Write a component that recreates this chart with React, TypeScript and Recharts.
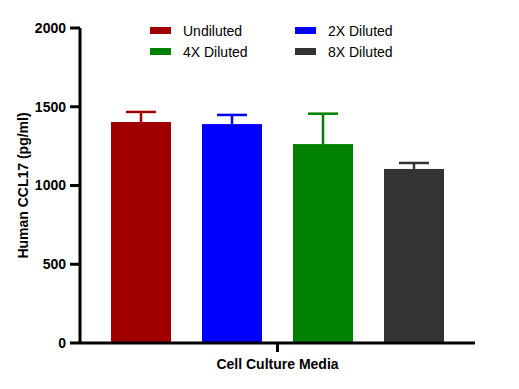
import React from 'react';
import { BarChart, Bar, XAxis, YAxis, Legend } from 'recharts';

const categories = ['Cell Culture Media'];
const seriesNames = ['Undiluted', '2X Diluted', '4X Diluted', '8X Diluted'];
const seriesKeys = ['undiluted', 'd2x', 'd4x', 'd8x'];
const means = [1403, 1390, 1263, 1105];
const sds = [64, 58, 193, 38];
const colors = ['#A00000', '#0000FF', '#008000', '#333333'];
const yTicks = [0, 500, 1000, 1500, 2000];

const data = categories.map((c) => {
  const row: Record<string, any> = { name: c };
  seriesKeys.forEach((k, i) => {
    row[k] = means[i];
    row[k + 'Sd'] = sds[i];
  });
  return row;
});

const FONT = "Arial, 'Liberation Sans', sans-serif";

const LegendContent = () => (
  <div
    style={{
      display: 'grid',
      gridTemplateColumns: '145px 145px',
      gridAutoRows: '21px',
      fontFamily: FONT,
      fontSize: 14,
      color: '#000',
    }}
  >
    {seriesNames.map((n, i) => (
      <div key={n} style={{ display: 'flex', alignItems: 'center', height: 21 }}>
        <span style={{ display: 'inline-block', width: 21, height: 7, background: colors[i], marginRight: 12 }} />
        <span>{n}</span>
      </div>
    ))}
  </div>
);

const YLabel = (props: any) => {
  const vb = props.viewBox || {};
  const cx = vb.x + 23;
  const cy = vb.y + vb.height / 2;
  return (
    <text
      x={cx}
      y={cy}
      transform={`rotate(-90, ${cx}, ${cy})`}
      textAnchor="middle"
      dominantBaseline="central"
      fontFamily={FONT}
      fontSize={14}
      fontWeight="bold"
      fill="#000"
    >
      Human CCL17 (pg/ml)
    </text>
  );
};

// Bar with a one-sided (upper) SD error bar, scaled from the bar's own pixel/value ratio
const makeShape = (sdKey: string, color: string) => (props: any) => {
  const { x, y, width, height, payload, value } = props;
  const v = Array.isArray(value) ? value[1] - value[0] : value;
  const sd = payload ? payload[sdKey] : 0;
  const pxPerUnit = v ? height / v : 0;
  const cx = x + width / 2;
  const top = y - sd * pxPerUnit;
  return (
    <g>
      <rect x={x} y={y} width={width} height={height} fill={color} />
      <line x1={cx} y1={y} x2={cx} y2={top} stroke={color} strokeWidth={2.5} />
      <line x1={cx - 15} y1={top} x2={cx + 15} y2={top} stroke={color} strokeWidth={2.5} />
    </g>
  );
};

export default function App() {
  return (
    <div style={{ position: 'absolute', left: 0, top: 0, background: '#fff' }}>
      <BarChart
        width={519}
        height={389}
        data={data}
        margin={{ top: 28, right: 44, bottom: 0, left: 0 }}
        barSize={60}
        barGap={31}
      >
        <XAxis
          dataKey="name"
          height={46}
          axisLine={{ stroke: '#000', strokeWidth: 3 }}
          tickLine={{ stroke: '#000', strokeWidth: 3 }}
          tickSize={9}
          tickMargin={7}
          tick={{ fill: '#000', fontFamily: FONT, fontSize: 14, fontWeight: 'bold' }}
        />
        <YAxis
          width={80}
          domain={[0, 2000]}
          ticks={yTicks}
          interval={0}
          axisLine={{ stroke: '#000', strokeWidth: 3 }}
          tickLine={{ stroke: '#000', strokeWidth: 3 }}
          tickSize={10}
          tickMargin={4}
          tick={{ fill: '#000', fontFamily: FONT, fontSize: 14, fontWeight: 'bold' }}
          label={{ content: YLabel }}
        />
        <Legend
          layout="horizontal"
          verticalAlign="middle"
          align="center"
          wrapperStyle={{ top: 20, left: 150, width: 300 }}
          content={LegendContent}
        />
        {seriesKeys.map((k, i) => (
          <Bar
            key={k}
            dataKey={k}
            name={seriesNames[i]}
            fill={colors[i]}
            isAnimationActive={false}
            shape={makeShape(k + 'Sd', colors[i])}
          />
        ))}
      </BarChart>
    </div>
  );
}
